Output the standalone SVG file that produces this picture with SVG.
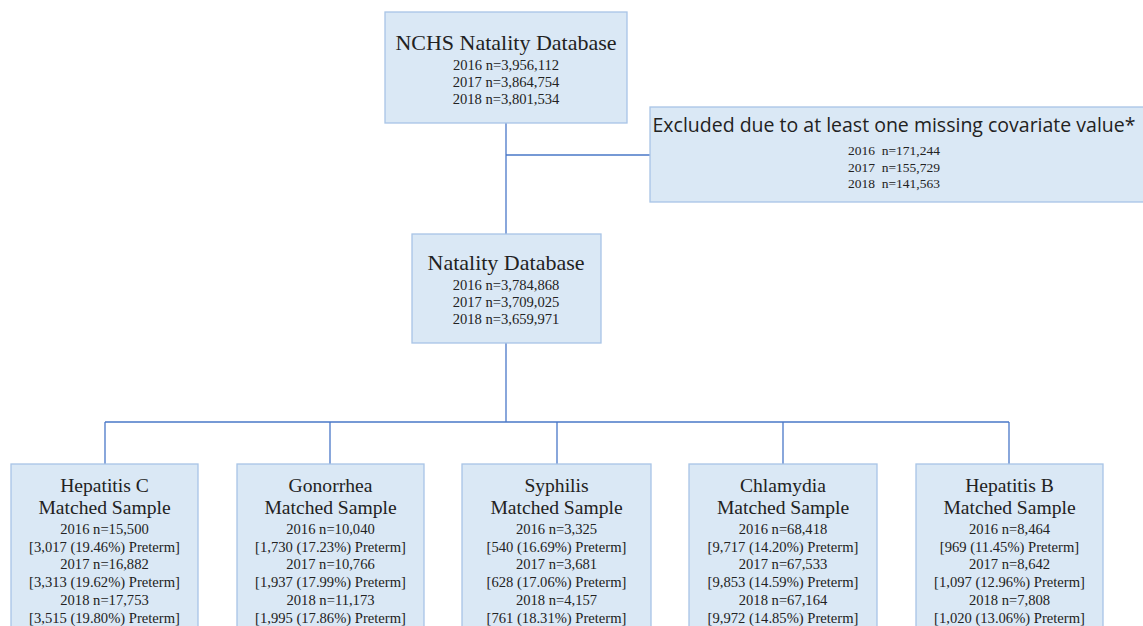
<svg xmlns="http://www.w3.org/2000/svg" width="1143" height="626" viewBox="0 0 1143 626">
<style>
.box{fill:#dae8f5;stroke:#a8c4e6;stroke-width:1.3}
.ln{fill:none;stroke:#4a78c8;stroke-width:1.3}
.t{font-family:"Liberation Serif","Times New Roman",serif;fill:#222;text-anchor:middle}
.h1{font-size:22px}
.h2{font-size:19.6px}
.n{font-size:14.6px}
.s{font-size:13.5px}
.sans{font-family:"Open Sans","Liberation Sans",Arial,sans-serif;fill:#222;text-anchor:middle;font-size:19.5px}
</style>
<rect width="1143" height="626" fill="#fff"/>
<g id="connectors">
<path class="ln" d="M506 123V234M506 155H650M506 343V422M105 422H1009M105 422V464M330 422V464M557 422V464M783 422V464M1009 422V464"/>
</g>
<g id="nchs">
<rect class="box" x="385" y="12" width="242" height="111"/>
<text class="t h1" x="506" y="50">NCHS Natality Database</text>
<text class="t n" x="506" y="70">2016 n=3,956,112</text>
<text class="t n" x="506" y="87">2017 n=3,864,754</text>
<text class="t n" x="506" y="104">2018 n=3,801,534</text>
</g>
<g id="excluded">
<rect class="box" x="650" y="107" width="500" height="95"/>
<text class="sans" x="894" y="132" textLength="483" lengthAdjust="spacingAndGlyphs">Excluded due to at least one missing covariate value*</text>
<text class="t s" x="894" y="155" xml:space="preserve">2016  n=171,244</text>
<text class="t s" x="894" y="171.5" xml:space="preserve">2017  n=155,729</text>
<text class="t s" x="894" y="188" xml:space="preserve">2018  n=141,563</text>
</g>
<g id="natality">
<rect class="box" x="412" y="234" width="189" height="109"/>
<text class="t h1" x="506" y="270">Natality Database</text>
<text class="t n" x="506" y="290">2016 n=3,784,868</text>
<text class="t n" x="506" y="307">2017 n=3,709,025</text>
<text class="t n" x="506" y="324">2018 n=3,659,971</text>
</g>
<g id="hepc">
<rect class="box" x="11" y="464" width="187" height="170"/>
<text class="t h2" x="104.5" y="492">Hepatitis C</text>
<text class="t h2" x="104.5" y="514">Matched Sample</text>
<text class="t n" x="104.5" y="534">2016 n=15,500</text>
<text class="t n" x="104.5" y="551.7">[3,017 (19.46%) Preterm]</text>
<text class="t n" x="104.5" y="569.4">2017 n=16,882</text>
<text class="t n" x="104.5" y="587.1">[3,313 (19.62%) Preterm]</text>
<text class="t n" x="104.5" y="604.8">2018 n=17,753</text>
<text class="t n" x="104.5" y="622.5">[3,515 (19.80%) Preterm]</text>
</g>
<g id="gonorrhea">
<rect class="box" x="237" y="464" width="187" height="170"/>
<text class="t h2" x="330.5" y="492">Gonorrhea</text>
<text class="t h2" x="330.5" y="514">Matched Sample</text>
<text class="t n" x="330.5" y="534">2016 n=10,040</text>
<text class="t n" x="330.5" y="551.7">[1,730 (17.23%) Preterm]</text>
<text class="t n" x="330.5" y="569.4">2017 n=10,766</text>
<text class="t n" x="330.5" y="587.1">[1,937 (17.99%) Preterm]</text>
<text class="t n" x="330.5" y="604.8">2018 n=11,173</text>
<text class="t n" x="330.5" y="622.5">[1,995 (17.86%) Preterm]</text>
</g>
<g id="syphilis">
<rect class="box" x="462" y="464" width="189" height="170"/>
<text class="t h2" x="556.5" y="492">Syphilis</text>
<text class="t h2" x="556.5" y="514">Matched Sample</text>
<text class="t n" x="556.5" y="534">2016 n=3,325</text>
<text class="t n" x="556.5" y="551.7">[540 (16.69%) Preterm]</text>
<text class="t n" x="556.5" y="569.4">2017 n=3,681</text>
<text class="t n" x="556.5" y="587.1">[628 (17.06%) Preterm]</text>
<text class="t n" x="556.5" y="604.8">2018 n=4,157</text>
<text class="t n" x="556.5" y="622.5">[761 (18.31%) Preterm]</text>
</g>
<g id="chlamydia">
<rect class="box" x="689" y="464" width="188" height="170"/>
<text class="t h2" x="783" y="492">Chlamydia</text>
<text class="t h2" x="783" y="514">Matched Sample</text>
<text class="t n" x="783" y="534">2016 n=68,418</text>
<text class="t n" x="783" y="551.7">[9,717 (14.20%) Preterm]</text>
<text class="t n" x="783" y="569.4">2017 n=67,533</text>
<text class="t n" x="783" y="587.1">[9,853 (14.59%) Preterm]</text>
<text class="t n" x="783" y="604.8">2018 n=67,164</text>
<text class="t n" x="783" y="622.5">[9,972 (14.85%) Preterm]</text>
</g>
<g id="hepb">
<rect class="box" x="916" y="464" width="187" height="170"/>
<text class="t h2" x="1009.5" y="492">Hepatitis B</text>
<text class="t h2" x="1009.5" y="514">Matched Sample</text>
<text class="t n" x="1009.5" y="534">2016 n=8,464</text>
<text class="t n" x="1009.5" y="551.7">[969 (11.45%) Preterm]</text>
<text class="t n" x="1009.5" y="569.4">2017 n=8,642</text>
<text class="t n" x="1009.5" y="587.1">[1,097 (12.96%) Preterm]</text>
<text class="t n" x="1009.5" y="604.8">2018 n=7,808</text>
<text class="t n" x="1009.5" y="622.5">[1,020 (13.06%) Preterm]</text>
</g>
</svg>
